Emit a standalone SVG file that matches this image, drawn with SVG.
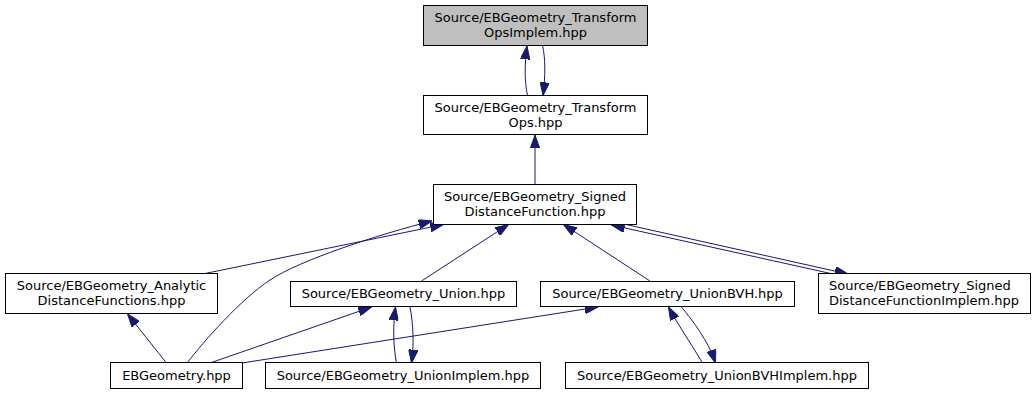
<svg xmlns="http://www.w3.org/2000/svg" width="1036" height="395" viewBox="0 0 1036 395">
  <defs>
    <style>
      .node rect { fill: #ffffff; stroke: #000000; stroke-width: 1; }
      .node.root rect { fill: #bfbfbf; }
      .node text { font-family: "DejaVu Sans", "Liberation Sans", sans-serif; font-size: 13px; fill: #000000; text-anchor: middle; }
      .node text.left { text-anchor: start; }
      .edges path { fill: none; stroke: #191970; stroke-width: 1; marker-end: url(#arrow); }
    </style>
    <marker id="arrow" viewBox="0 0 13.3 9.4" refX="13.3" refY="4.7" markerWidth="13.3" markerHeight="9.4" markerUnits="userSpaceOnUse" orient="auto">
      <path d="M0,0 L13.3,4.7 L0,9.4 Z" fill="#191970" stroke="#191970" stroke-width="1"/>
    </marker>
  </defs>
  <rect width="1036" height="395" fill="#ffffff"/>

  <!-- include edges -->
  <g id="edges" class="edges">
    <path d="M527.5,95.5 C524.5,82 524.5,64 527,46"/>
    <path d="M542.5,45.5 C545.5,58 545.5,76 543,95.5"/>
    <path d="M535,184 L535,135"/>
    <path d="M205,273.5 L443.5,224.5"/>
    <path d="M187,363 C205,340 240,300 270,280 C300,260 380,234 432,221"/>
    <path d="M166.5,363 L127.5,314"/>
    <path d="M210,363 L371.5,307"/>
    <path d="M242,363 L598,307"/>
    <path d="M396.5,363 C393,345 393,325 395.5,307"/>
    <path d="M410,307 C413.5,325 414,345 411.5,363"/>
    <path d="M702.5,363 C692,345 678,325 668.5,307"/>
    <path d="M681.5,307 C692,320 708,340 715.5,363"/>
    <path d="M421.5,281 L508.5,224.5"/>
    <path d="M650,281 L563.5,224.5"/>
    <path d="M833,274 L611.5,225"/>
    <path d="M626,224.5 L848,274"/>
  </g>

  <g id="node-transformopsimplem" class="node root">
    <rect x="423.5" y="5.5" width="224" height="40"/>
    <text x="535.5" y="22">Source/EBGeometry_Transform</text>
    <text x="535.5" y="37">OpsImplem.hpp</text>
  </g>
  <g id="node-transformops" class="node">
    <rect x="423.5" y="95.5" width="224" height="39"/>
    <text x="535.5" y="112">Source/EBGeometry_Transform</text>
    <text x="535.5" y="127">Ops.hpp</text>
  </g>
  <g id="node-signeddistancefunction" class="node">
    <rect x="433.5" y="184.5" width="203" height="40"/>
    <text x="535" y="201">Source/EBGeometry_Signed</text>
    <text x="535" y="216">DistanceFunction.hpp</text>
  </g>
  <g id="node-analyticdistancefunctions" class="node">
    <rect x="5.5" y="273.5" width="212" height="40"/>
    <text x="111.5" y="290">Source/EBGeometry_Analytic</text>
    <text x="111.5" y="305">DistanceFunctions.hpp</text>
  </g>
  <g id="node-union" class="node">
    <rect x="290.5" y="281.5" width="226" height="25"/>
    <text x="403.5" y="297.5">Source/EBGeometry_Union.hpp</text>
  </g>
  <g id="node-unionbvh" class="node">
    <rect x="540.5" y="281.5" width="254" height="25"/>
    <text x="667.5" y="297.5">Source/EBGeometry_UnionBVH.hpp</text>
  </g>
  <g id="node-signeddistancefunctionimplem" class="node">
    <rect x="818.5" y="273.5" width="212" height="40"/>
    <text class="left" x="829" y="290">Source/EBGeometry_Signed</text>
    <text class="left" x="829" y="305">DistanceFunctionImplem.hpp</text>
  </g>
  <g id="node-ebgeometry" class="node">
    <rect x="110.5" y="362.5" width="132" height="26"/>
    <text x="176.5" y="379.5">EBGeometry.hpp</text>
  </g>
  <g id="node-unionimplem" class="node">
    <rect x="265.5" y="362.5" width="275" height="26"/>
    <text x="403" y="379.5">Source/EBGeometry_UnionImplem.hpp</text>
  </g>
  <g id="node-unionbvhimplem" class="node">
    <rect x="565.5" y="362.5" width="303" height="26"/>
    <text x="717" y="379.5">Source/EBGeometry_UnionBVHImplem.hpp</text>
  </g>
</svg>
